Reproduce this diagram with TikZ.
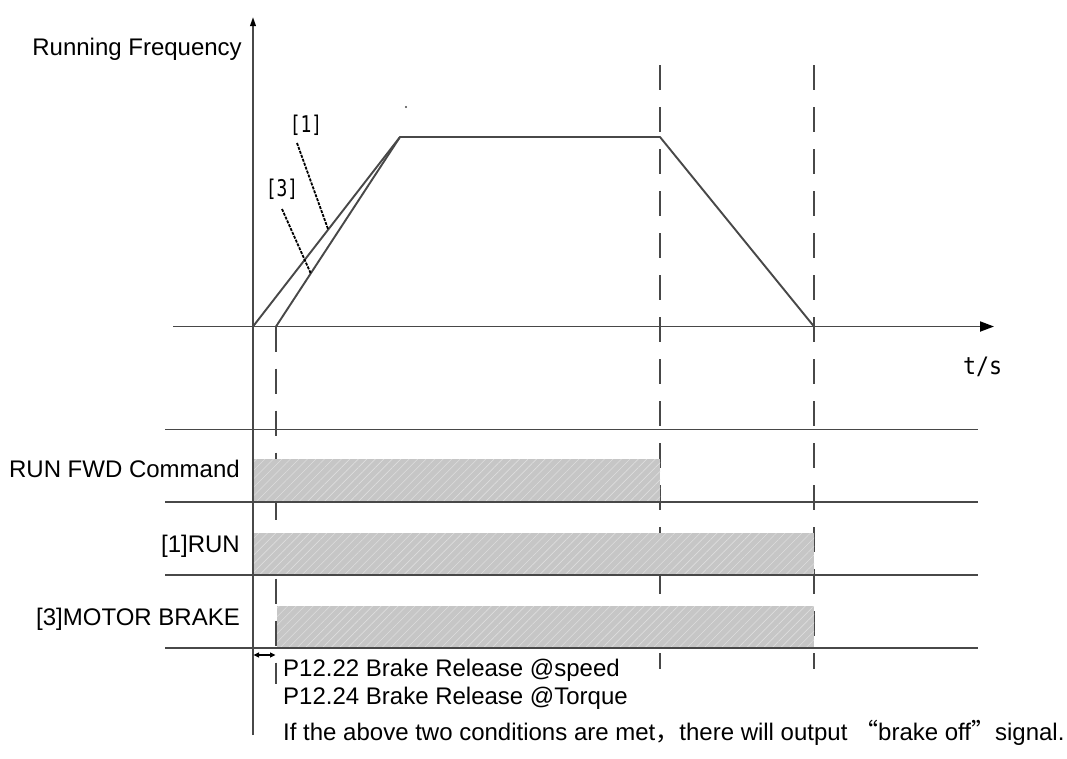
\documentclass[tikz,border=0pt]{standalone}
\usepackage{fontspec}
\setmainfont{Liberation Sans}
\newfontfamily\cjkfont{Noto Sans CJK SC}
\newfontfamily\monofont[FakeStretch=0.78]{DejaVu Sans Mono}
\newfontfamily\monofontw[FakeStretch=0.9]{DejaVu Sans Mono}
\usetikzlibrary{arrows.meta,patterns.meta}
\definecolor{ln}{RGB}{72,72,72}
\definecolor{barfill}{RGB}{198,198,198}
\definecolor{barhatch}{RGB}{222,222,222}
\tikzset{
  axisline/.style={draw=ln,line width=1.9pt},
  sigline/.style={draw=ln,line width=1.9pt},
  guide/.style={draw=ln,line width=1.9pt,dash pattern=on 25pt off 17pt},
  ramp/.style={draw=ln,line width=1.9pt,line join=round},
  leader/.style={draw=black,line width=1.8pt,dash pattern=on 3pt off 1.2pt},
  barbox/.style={fill=barfill},
  hatch/.style={pattern={Lines[angle=45,distance=6pt,line width=0.6pt]},pattern color=barhatch},
  lbl/.style={font=\fontsize{24}{29}\selectfont,inner sep=0pt},
  mono/.style={font=\monofont\fontsize{23}{26}\selectfont,inner sep=0pt},
  monow/.style={font=\monofontw\fontsize{24}{26}\selectfont,inner sep=0pt},
}
\begin{document}
\begin{tikzpicture}[x=1pt,y=-1pt]
\fill[white] (0,0) rectangle (1067,758);
\useasboundingbox (0,0) rectangle (1067,758);

% key coordinates
\coordinate (O) at (253,326.5);
\coordinate (S3) at (276,326.5);
\coordinate (P) at (400,137);
\coordinate (Q) at (660,137);
\coordinate (E) at (814,326.5);
\coordinate (yb) at (253,735);
\coordinate (yt) at (253,17);
\coordinate (xl) at (173,326.5);
\coordinate (xr) at (994,326.5);

% dashed guide lines
\coordinate (g1a) at (276,326.5); \coordinate (g1b) at (276,684);
\coordinate (g2a) at (660,65);    \coordinate (g2b) at (660,669);
\coordinate (g3a) at (814,65);    \coordinate (g3b) at (814,669);
\draw[guide] (g1a) -- (g1b);
\draw[guide] (g2a) -- (g2b);
\draw[guide] (g3a) -- (g3b);

% signal bars
\coordinate (b1a) at (253,459); \coordinate (b1b) at (660,502);
\coordinate (b2a) at (253,533); \coordinate (b2b) at (814,575);
\coordinate (b3a) at (277,606); \coordinate (b3b) at (814,648);
\path[barbox] (b1a) rectangle (b1b);
\path[hatch]  (b1a) rectangle (b1b);
\path[barbox] (b2a) rectangle (b2b);
\path[hatch]  (b2a) rectangle (b2b);
\path[barbox] (b3a) rectangle (b3b);
\path[hatch]  (b3a) rectangle (b3b);

% horizontal signal lines
\coordinate (h0a) at (165,429.5); \coordinate (h0b) at (978,429.5);
\coordinate (h1a) at (165,502);   \coordinate (h1b) at (978,502);
\coordinate (h2a) at (165,575);   \coordinate (h2b) at (978,575);
\coordinate (h3a) at (165,648);   \coordinate (h3b) at (978,648);
\draw[sigline] (h0a) -- (h0b);
\draw[sigline] (h1a) -- (h1b);
\draw[sigline] (h2a) -- (h2b);
\draw[sigline] (h3a) -- (h3b);

% axes
\draw[axisline,-{Triangle[length=9pt,width=5.5pt,color=black,fill=black]}] (yb) -- (yt);
\draw[axisline,-{Triangle[length=14pt,width=10pt,color=black,fill=black]}] (xl) -- (xr);

% frequency curves
\draw[ramp] (O) -- (P) -- (Q) -- (E);
\draw[ramp] (S3) -- (P);

% stray dot
\fill[ln] (406,107) circle (1.2pt);

% leaders and curve labels
\node[mono] (l1) at (306,125.5) {[1]};
\node[mono] (l3) at (282,189) {[3]};
\coordinate (l1a) at (297,143); \coordinate (l1b) at (328,229);
\coordinate (l3a) at (282,209); \coordinate (l3b) at (311,274);
\draw[leader] (l1a) -- (l1b);
\draw[leader] (l3a) -- (l3b);

% delay arrow
\coordinate (da) at (253.5,655); \coordinate (db) at (275.5,655);
\draw[draw=black,line width=1.2pt,{Triangle[length=5.5pt,width=5pt]}-{Triangle[length=5.5pt,width=5pt]}] (da) -- (db);

% texts
\node[lbl,anchor=base east] (tfreq) at (242,55) {Running Frequency};
\node[monow,anchor=base west] (tts) at (963,374) {t/s};
\node[lbl,anchor=base east] (trf) at (240,477) {RUN FWD Command};
\node[lbl,anchor=base east] (trun) at (240,552) {[1]RUN};
\node[lbl,anchor=base east] (tbr) at (240,625) {[3]MOTOR BRAKE};
\node[lbl,anchor=base west] (tp1) at (283,676) {P12.22 Brake Release @speed};
\node[lbl,anchor=base west] (tp2) at (283,704) {P12.24 Brake Release @Torque};
\node[lbl,anchor=base west] (tif) at (283,740) {If the above two conditions are met{\cjkfont ，}there will output {\cjkfont “}brake off{\cjkfont ”}signal.};
\end{tikzpicture}
\end{document}
